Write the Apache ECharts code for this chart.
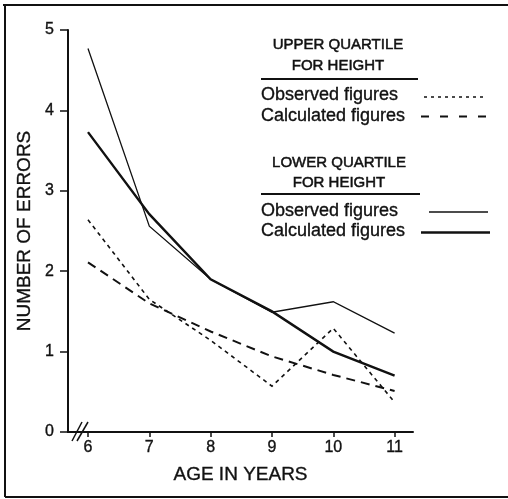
<!DOCTYPE html>
<html>
<head>
<meta charset="utf-8">
<style>
  html, body { margin: 0; padding: 0; background: #fff; }
  #chart { width: 508px; height: 499px; }
</style>
<script src="https://cdn.jsdelivr.net/npm/echarts@6/dist/echarts.min.js"></script>
</head>
<body>
<div id="chart"></div>
<script>
// Mean number of errors by age, children grouped by height quartile
const ages = [6, 7, 8, 9, 10, 11];
const ageTicks = [6, 7, 8, 9, 10, 11];
const upperObserved   = [2.64, 1.65, 1.14, 0.57, 1.29, 0.37];
const upperCalculated = [2.11, 1.60, 1.25, 0.94, 0.71, 0.51];
const lowerObserved   = [4.77, 2.56, 1.90, 1.49, 1.62, 1.23];
const lowerCalculated = [3.73, 2.71, 1.90, 1.50, 1.00, 0.70];

const FONT = "'Liberation Sans', Arial, Helvetica, sans-serif";
const INK = '#111';
// a touch of stroke gives the printed type its heavier look
const HEAVY = { textBorderColor: INK, textBorderWidth: 0.35 };

function pairs(ys) { return ages.map((a, i) => [a, ys[i]]); }

function lineSeries(name, ys, width, dash) {
  return {
    name, type: 'line', data: pairs(ys), symbol: 'none', silent: true,
    lineStyle: { color: INK, width, type: dash || 'solid', cap: 'butt', join: 'miter' }
  };
}

function txt(text, x, y, size, align, stroke) {
  return { type: 'text', x, y, silent: true,
    style: { text, fill: INK, font: size + 'px ' + FONT, align: align || 'left', verticalAlign: 'middle',
      stroke: INK, lineWidth: stroke || 0.35 } };
}
function seg(x1, y1, x2, y2, width, dash) {
  return { type: 'line', silent: true, shape: { x1, y1, x2, y2 },
    style: { stroke: INK, lineWidth: width, lineDash: dash || null } };
}

const chart = echarts.init(document.getElementById('chart'), null, { renderer: 'canvas' });
chart.setOption({
  animation: false,
  backgroundColor: '#fff',
  grid: { left: 68, top: 30, width: 345, height: 402, containLabel: false },
  xAxis: {
    type: 'value', min: 5.674, max: 11.3,
    name: 'AGE IN YEARS', nameLocation: 'middle', nameGap: 33,
    nameTextStyle: Object.assign({ color: INK, fontSize: 19, fontFamily: FONT }, HEAVY),
    axisLine: { show: true, lineStyle: { color: INK, width: 2 } },
    axisTick: { show: true, length: 5, inside: false, customValues: ageTicks, lineStyle: { color: INK, width: 1.5 } },
    axisLabel: Object.assign({ customValues: ageTicks, color: INK, fontSize: 16, fontFamily: FONT, margin: 8 }, HEAVY),
    splitLine: { show: false }
  },
  yAxis: {
    type: 'value', min: 0, max: 5, interval: 1,
    name: 'NUMBER OF ERRORS', nameLocation: 'middle', nameGap: 25, nameRotate: 90,
    nameTextStyle: Object.assign({ color: INK, fontSize: 19, fontFamily: FONT }, HEAVY),
    axisLine: { show: true, lineStyle: { color: INK, width: 2 } },
    axisTick: { show: true, length: 8, inside: false, lineStyle: { color: INK, width: 1.5 } },
    axisLabel: Object.assign({ color: INK, fontSize: 16, fontFamily: FONT, margin: 14,
      formatter: v => String(v) }, HEAVY),
    splitLine: { show: false }
  },
  series: [
    lineSeries('Upper quartile, observed', upperObserved, 1.6, [4, 4]),
    lineSeries('Upper quartile, calculated', upperCalculated, 2, [9, 6]),
    lineSeries('Lower quartile, observed', lowerObserved, 1.3),
    lineSeries('Lower quartile, calculated', lowerCalculated, 2.4)
  ],
  graphic: [
    // frame
    seg(3, 5, 508, 5, 2),
    seg(5, 5, 5, 497, 2),
    seg(5, 497, 508, 497, 2),
    // broken axis mark
    { type: 'rect', silent: true, shape: { x: 76, y: 428, width: 10, height: 8 }, style: { fill: '#fff' } },
    seg(72, 441, 82, 422, 1.5),
    seg(77, 441, 88, 422, 1.5),
    // key: upper quartile
    txt('UPPER QUARTILE', 338, 45, 15, 'center', 0.5),
    txt('FOR HEIGHT', 338, 65.5, 15, 'center', 0.5),
    seg(261, 79, 418, 79, 2),
    txt('Observed figures', 261, 95.5, 18),
    seg(424, 97, 486, 97, 1.4, [3, 4]),
    txt('Calculated figures', 261, 116, 18),
    seg(421, 116.5, 488, 116.5, 2, [8, 11]),
    // key: lower quartile
    txt('LOWER QUARTILE', 339, 163, 15, 'center', 0.5),
    txt('FOR HEIGHT', 339, 183.3, 15, 'center', 0.5),
    seg(261, 194, 420, 194, 2),
    txt('Observed figures', 261, 211, 18),
    seg(429, 212, 488, 212, 1.3),
    txt('Calculated figures', 261, 231, 18),
    seg(421, 232.5, 490, 232.5, 2.5)
  ]
});
</script>
</body>
</html>
